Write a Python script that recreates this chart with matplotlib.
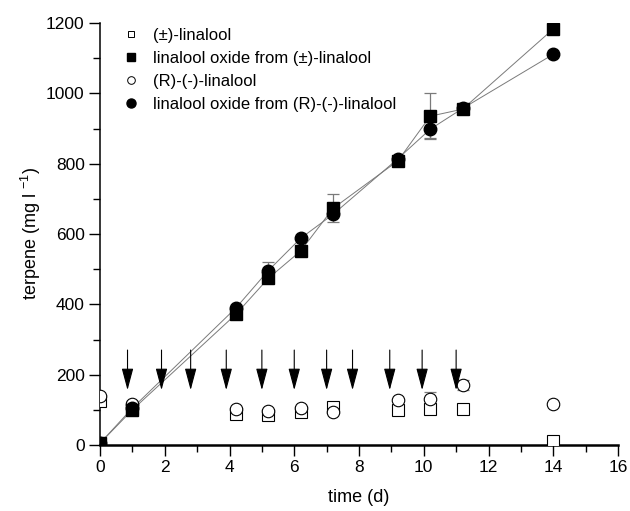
import matplotlib
matplotlib.use("Agg")
import matplotlib.pyplot as plt
from matplotlib.lines import Line2D
from matplotlib.ticker import MultipleLocator

plt.rcParams['font.family'] = ['Liberation Sans', 'DejaVu Sans']
plt.rcParams['mathtext.default'] = 'regular'

# ---- data ----
days = [0, 1, 4.2, 5.2, 6.2, 7.2, 9.2, 10.2, 11.2, 14]
rac_linalool = [125, 105, 87, 86, 95, 107, 100, 102, 101, 12]
oxide_from_rac = [5, 100, 372, 474, 552, 673, 808, 935, 955, 1183]
r_linalool = [138, 117, 103, 98, 106, 93, 128, 130, 170, 118]
oxide_from_r = [5, 105, 390, 496, 588, 656, 814, 898, 957, 1111]

oxide_rac_err = [0, 0, 0, 0, 0, 40, 0, 65, 0, 0]
oxide_r_err = [0, 0, 0, 24, 0, 0, 0, 24, 0, 0]
r_lin_err = [0, 8, 0, 0, 0, 0, 0, 22, 15, 0]

feed_days = [0.85, 1.9, 2.8, 3.9, 5.0, 6.0, 7.0, 7.8, 8.95, 9.95, 11.0]
arrow_top = 270
arrow_tip = 156

labels = ['(±)-linalool', 'linalool oxide from (±)-linalool',
          '(R)-(-)-linalool', 'linalool oxide from (R)-(-)-linalool']

fig = plt.figure(figsize=(6.3, 5.11), dpi=100)
ax = fig.add_axes([100/630, 66/511, 518/630, 422/511])

gray = '#7a7a7a'
ms = 8

# connecting lines for oxide series
ax.plot(days, oxide_from_rac, '-', color=gray, lw=0.7, zorder=2)
ax.plot(days, oxide_from_r, '-', color=gray, lw=0.7, zorder=2)

def errs(x, y, e, z):
    xs = [a for a, b in zip(x, e) if b > 0]
    ys = [a for a, b in zip(y, e) if b > 0]
    es = [b for b in e if b > 0]
    ax.errorbar(xs, ys, yerr=es, fmt='none', ecolor=gray, elinewidth=0.9,
                capsize=4, capthick=0.9, zorder=z)

errs(days, oxide_from_rac, oxide_rac_err, 3)
errs(days, oxide_from_r, oxide_r_err, 3)
errs(days, r_linalool, r_lin_err, 3)

ax.plot(days, rac_linalool, 's', ms=ms, mfc='white', mec='black', mew=0.8, zorder=4)
ax.plot(days, r_linalool, 'o', ms=ms + 1, mfc='white', mec='black', mew=0.8, zorder=5)
ax.plot(days, oxide_from_rac, 's', ms=ms, mfc='black', mec='black', zorder=6)
ax.plot(days, oxide_from_r, 'o', ms=ms + 1, mfc='black', mec='black', zorder=7)

for d in feed_days:
    ax.annotate('', xy=(d, arrow_tip), xytext=(d, arrow_top),
                arrowprops=dict(arrowstyle='-|>,head_length=1.35,head_width=0.36',
                                color='black', lw=0.8, shrinkA=0, shrinkB=0),
                zorder=8)

ax.set_xlim(0, 16)
ax.set_ylim(0, 1200)
ax.xaxis.set_major_locator(MultipleLocator(2))
ax.xaxis.set_minor_locator(MultipleLocator(1))
ax.yaxis.set_major_locator(MultipleLocator(200))
ax.yaxis.set_minor_locator(MultipleLocator(100))
ax.tick_params(which='major', length=8, width=1, labelsize=12.5, pad=3)
ax.tick_params(which='minor', length=5, width=1)
for s in ['top', 'right']:
    ax.spines[s].set_visible(False)
ax.spines['left'].set_linewidth(1.1)
ax.spines['bottom'].set_linewidth(1.8)

ax.set_xlabel('time (d)', fontsize=13, labelpad=10)
ax.set_ylabel('terpene (mg l $^{-1}$)', fontsize=13, labelpad=2)

handles = [
    Line2D([], [], ls='none', marker='s', ms=5, mfc='white', mec='black', mew=0.7),
    Line2D([], [], ls='none', marker='s', ms=5.5, mfc='black', mec='black'),
    Line2D([], [], ls='none', marker='o', ms=5.5, mfc='white', mec='black', mew=0.7),
    Line2D([], [], ls='none', marker='o', ms=6.5, mfc='black', mec='black'),
]
ax.legend(handles, labels, loc='upper left', bbox_to_anchor=(0.035, 1.0),
          frameon=False, fontsize=12, handlelength=1.0, handletextpad=0.8,
          labelspacing=0.48, borderpad=0.3, borderaxespad=0)

fig.savefig('out.png', dpi=100)
